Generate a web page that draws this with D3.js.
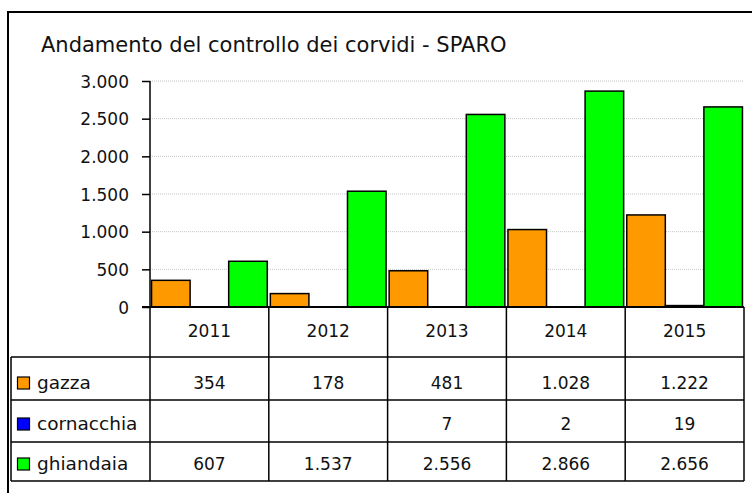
<!DOCTYPE html>
<html>
<head>
<meta charset="utf-8">
<script src="https://cdn.jsdelivr.net/npm/d3@7"></script>
<style>
  body { margin: 0; background: #fff; }
  svg { display: block; font-family: "DejaVu Sans", Verdana, sans-serif; }
</style>
</head>
<body>
<svg id="chart"></svg>
<script>
const years = ['2011', '2012', '2013', '2014', '2015']
const seriesNames = ['gazza', 'cornacchia', 'ghiandaia']
const gazza = [354, 178, 481, 1028, 1222]
const cornacchia = [null, null, 7, 2, 19]
const ghiandaia = [607, 1537, 2556, 2866, 2656]
const yTicks = [0, 500, 1000, 1500, 2000, 2500, 3000]
const colors = ['#ff9900', '#0000ff', '#00ff00']

const seriesValues = [gazza, cornacchia, ghiandaia]
const width = 752, height = 493
const fmt = d3.format(',')
const itNum = v => v == null ? '' : fmt(v).replace(/,/g, '.')

const svg = d3.select('#chart')
    .attr('width', width)
    .attr('height', height)
    .attr('viewBox', [0, 0, width, height])

// outer frame (right and bottom run off the picture)
svg.append('rect')
    .attr('x', 8).attr('y', 12)
    .attr('width', 800).attr('height', 520)
    .attr('fill', 'none').attr('stroke', '#000').attr('stroke-width', 2)

svg.append('text')
    .text('Andamento del controllo dei corvidi - SPARO')
    .attr('x', 41).attr('y', 52)
    .attr('font-size', 21)
    .attr('fill', '#111')

// scales
const xScale = d3.scaleBand()
    .domain(years)
    .range([150, 744])
    .padding(0)

const xInner = d3.scaleBand()
    .domain(seriesNames)
    .range([0, xScale.bandwidth()])
    .paddingInner(0)
    .paddingOuter(0.04)

const yScale = d3.scaleLinear()
    .domain([0, 3000])
    .range([307, 81])

// gridlines
svg.append('g')
    .selectAll('line')
    .data(yTicks.filter(d => d > 0))
    .join('line')
    .attr('x1', 150).attr('x2', 743)
    .attr('y1', d => yScale(d)).attr('y2', d => yScale(d))
    .attr('stroke', '#c4c4c4')
    .attr('stroke-dasharray', '1,1')

// bars
const bars = []
seriesNames.forEach((s, si) => {
    years.forEach((y, yi) => {
        const v = seriesValues[si][yi]
        if (v != null) bars.push({ s, si, y, v })
    })
})

svg.append('g')
    .selectAll('rect')
    .data(bars)
    .join('rect')
    .attr('x', d => xScale(d.y) + xInner(d.s))
    .attr('y', d => yScale(d.v))
    .attr('width', xInner.bandwidth())
    .attr('height', d => yScale(0) - yScale(d.v))
    .attr('fill', d => colors[d.si])
    .attr('stroke', d => (yScale(0) - yScale(d.v)) < 1 ? 'none' : '#000')
    .attr('stroke-width', 1.5)

// y axis
function yAxis(g) {
    g.attr('transform', 'translate(150,0)')
        .call(d3.axisLeft(yScale).tickValues(yTicks).tickSize(8).tickPadding(13).tickFormat(itNum))
        .attr('font-size', 17)
        .attr('font-family', null)
    g.select('.domain').attr('stroke-width', 1.5).attr('d', `M-0,${yScale(3000)}V${yScale(0)}`)
    g.selectAll('.tick line').attr('stroke-width', 1.5)
    g.selectAll('.tick text').attr('fill', '#111').attr('dy', '0.36em')
}
svg.append('g').call(yAxis)

// zero line
svg.append('line')
    .attr('x1', 142).attr('x2', 744)
    .attr('y1', yScale(0)).attr('y2', yScale(0))
    .attr('stroke', '#000').attr('stroke-width', 2)

// data table
const rowEdges = [307, 357, 400, 442, 481]
const table = svg.append('g').attr('stroke', '#000').attr('stroke-width', 1.5)

rowEdges.slice(1).forEach(ry => {
    table.append('line').attr('x1', 11).attr('x2', 744).attr('y1', ry).attr('y2', ry)
})
table.append('line').attr('x1', 11).attr('x2', 11).attr('y1', 357).attr('y2', 481)

const colEdges = years.map(y => xScale(y)).concat([xScale.range()[1]])
colEdges.forEach(cx => {
    table.append('line').attr('x1', cx).attr('x2', cx).attr('y1', 307).attr('y2', 481)
})

// year labels
svg.append('g')
    .selectAll('text')
    .data(years)
    .join('text')
    .text(d => d)
    .attr('x', d => xScale(d) + xScale.bandwidth() / 2)
    .attr('y', 337)
    .attr('text-anchor', 'middle')
    .attr('font-size', 17)
    .attr('fill', '#111')

const baselines = [389, 430, 470]

seriesNames.forEach((s, si) => {
    const row = svg.append('g')
    row.append('rect')
        .attr('x', 17.5).attr('y', baselines[si] - 12)
        .attr('width', 12).attr('height', 12)
        .attr('fill', colors[si])
        .attr('stroke', '#000').attr('stroke-width', 1.2)
    row.append('text')
        .text(s)
        .attr('x', 37).attr('y', baselines[si])
        .attr('font-size', 18.5)
        .attr('fill', '#111')
    row.selectAll('text.val')
        .data(years)
        .join('text')
        .attr('class', 'val')
        .text((y, yi) => itNum(seriesValues[si][yi]))
        .attr('x', y => xScale(y) + xScale.bandwidth() / 2)
        .attr('y', baselines[si])
        .attr('text-anchor', 'middle')
        .attr('font-size', 17)
        .attr('fill', '#111')
})
</script>
</body>
</html>
